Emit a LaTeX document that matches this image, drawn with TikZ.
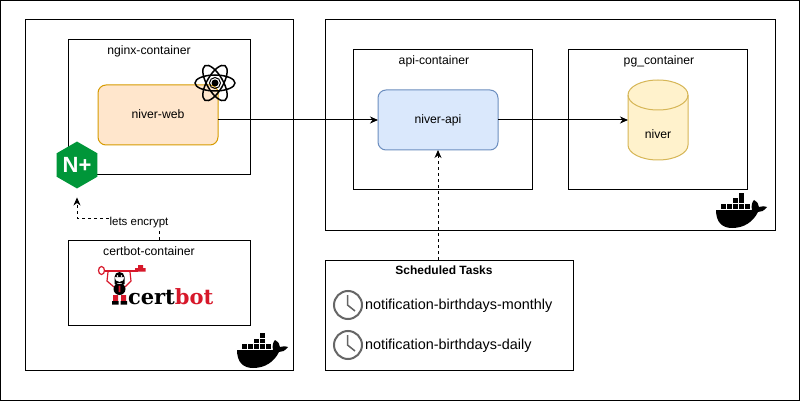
\documentclass[tikz,border=0pt]{standalone}
\usepackage{fontspec}
\setmainfont{Liberation Sans}
\newfontfamily\logofont{DejaVu Serif}
\usetikzlibrary{arrows.meta,positioning,shapes.geometric}
\definecolor{webfill}{HTML}{FFE6CC}
\definecolor{webline}{HTML}{D79B00}
\definecolor{apifill}{HTML}{DAE8FC}
\definecolor{apiline}{HTML}{6C8EBF}
\definecolor{dbfill}{HTML}{FFF2CC}
\definecolor{dbline}{HTML}{D6B656}
\definecolor{nplusgreen}{HTML}{009639}
\definecolor{certred}{HTML}{D7182A}
\tikzset{
  every node/.style={font=\fontsize{12.2}{14}\selectfont, inner sep=0pt, outer sep=0pt},
  hostbox/.style={draw, line width=1pt, rectangle, fill=white},
  servicebox/.style={draw, line width=1pt, rectangle, rounded corners=8pt, minimum width=120pt, minimum height=60pt, text height=8.7pt, text depth=2pt},
  flowarrow/.style={line width=1pt, -{Stealth[length=8pt,width=7pt,inset=2.5pt]}},
  dasharrow/.style={flowarrow, dashed, dash pattern=on 3pt off 3pt},
  pics/dockerlogo/.style={code={
    \fill (0,18) -- (36,18) .. controls (35,14) and (36,10) .. (38,8)
      .. controls (41,10) and (43,12) .. (43,15) .. controls (46,14) and (49,14) .. (51,15)
      .. controls (48,19) and (45,20) .. (42,20) .. controls (37,30) and (28,36) .. (16,36)
      .. controls (6,36) and (0,30) .. (0,18) -- cycle;
    \foreach \col in {5,11,17,23,29} \fill (\col,12) rectangle ++(4.6,4.6);
    \foreach \col in {17,23} \fill (\col,6.5) rectangle ++(4.6,4.6);
    \fill (23,1) rectangle ++(4.6,4.6);
  }},
  pics/clockicon/.style={code={
    \draw[line width=2pt, black!60] (0,0) circle (14);
    \draw[line width=1.5pt, black!60] (-0.5,-10) -- (-0.5,0) -- (7,6);
  }},
  pics/reacticon/.style={code={
    \foreach \tilt in {0,60,120}
      \draw[line width=1.5pt, rotate=\tilt] (0,0) ellipse (20 and 8);
    \draw[line width=1pt] (0,0) circle (5.5);
    \fill (0,0) circle (3.5);
  }},
}
\begin{document}
\begin{tikzpicture}[x=1pt, y=-1pt]
  \useasboundingbox (0,0) rectangle (801,401);
  \node (frame) [draw, line width=1pt, rectangle, minimum width=799pt, minimum height=400pt] at (399.5,200.5) {};

  % left host
  \node (lefthost) [hostbox, minimum width=268pt, minimum height=350pt] at (159,195) {};
  \node (nginxbox) [hostbox, minimum width=182pt, minimum height=135pt] at (159,107.5) {};
  \node (certbotbox) [hostbox, minimum width=182pt, minimum height=85pt, below=65pt of nginxbox] {};
  \node (nginxlabel) at (149,51) {nginx-container};
  \node (certbotlabel) at (149,251) {certbot-container};
  \node (web) [servicebox, draw=webline, fill=webfill] at (158,115) {niver-web};
  \pic at (215,83) {reacticon};
  \node (nplus) [regular polygon, regular polygon sides=6, shape border rotate=30, fill=nplusgreen, minimum size=44pt, text=white, font=\fontsize{22}{24}\bfseries\selectfont] at (77,165) {N+};

  % certbot logo
  \node (certtext) [anchor=base west, font=\fontsize{21}{24}\bfseries\logofont] at (128,304.5) {cert\textcolor{certred}{bot}};
  \draw[certred, line width=1.2pt] (101.5,270.5) ellipse (3 and 4);
  \fill[certred] (105,269.5) rectangle (138,272);
  \fill[certred] (135,268) rectangle (145.5,271.5) (138,265) rectangle (143,268);
  \draw[certred, line width=1.2pt] (108,272) -- (107,281) -- (114,287) (130,272) -- (131,281) -- (125,287);
  \fill (119.5,277) circle (5) (114.5,277) rectangle (124.5,284) (119.5,289) circle (6);
  \fill[white] (117.5,276) circle (0.9) (121.5,276) circle (0.9);
  \fill[certred] (118.7,285.5) rectangle (120.3,292) (113,295) rectangle (118,301) (121,295) rectangle (126,301);
  \fill (112,301) rectangle (118.5,304.5) (120.5,301) rectangle (127,304.5);

  % dashed link to nginx
  \draw[dasharrow, shorten >=9pt] (certbotbox.north) -- ++(0,-22) -| (nplus.south);
  \node (encrypt) [fill=white, font=\fontsize{11.5}{14}\selectfont, inner sep=1pt] at (139,223) {lets encrypt};

  \pic at (237,332) {dockerlogo};

  % right host
  \node (righthost) [hostbox, minimum width=450pt, minimum height=210pt] at (550.5,125) {};
  \node (apibox) [hostbox, minimum width=179pt, minimum height=140pt] at (443,120) {};
  \node (pgbox) [hostbox, minimum width=179pt, minimum height=140pt, right=36pt of apibox] {};
  \node (apilabel) at (434,61) {api-container};
  \node (pglabel) at (659,61) {pg\_container};
  \node (api) [servicebox, draw=apiline, fill=apifill] at (438,120) {niver-api};
  \node (niverdb) [minimum width=60pt, minimum height=80pt] at (658,120) {};
  \draw[draw=dbline, fill=dbfill, line width=1pt] (niverdb.north west) ++(0,15) arc[start angle=180, end angle=0, x radius=30, y radius=-15] -- ++(0,50) arc[start angle=0, end angle=-180, x radius=30, y radius=-15] -- cycle;
  \draw[draw=dbline, line width=1pt] (niverdb.north west) ++(0,15) arc[start angle=180, end angle=360, x radius=30, y radius=-15];
  \node (dblabel) at (658,134) {niver};
  \pic at (716,192) {dockerlogo};

  % scheduled tasks
  \node (tasks) [hostbox, minimum width=248pt, minimum height=110pt] at (449.5,315) {};
  \node (taskstitle) [font=\fontsize{12}{14}\bfseries\selectfont] at (444,270) {Scheduled Tasks};
  \pic at (348,305) {clockicon};
  \pic at (348,345) {clockicon};
  \node (monthly) [anchor=west, font=\fontsize{14.4}{16}\selectfont] at (365,306) {notification-birthdays-monthly};
  \node (daily) [anchor=west, font=\fontsize{14.4}{16}\selectfont] at (365,346) {notification-birthdays-daily};

  \draw[flowarrow] (web.east |- api.west) -- (api.west);
  \draw[flowarrow] (api.east) -- (niverdb.west);
  \coordinate (taskstop) at (438,260);
  \draw[dasharrow] (taskstop) -- (api.south);
\end{tikzpicture}
\end{document}
